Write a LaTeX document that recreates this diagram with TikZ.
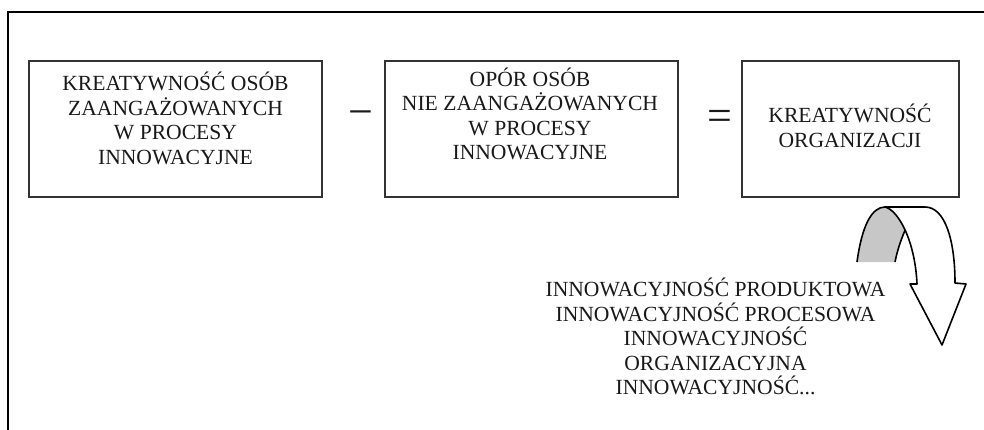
\documentclass[tikz,border=0pt]{standalone}
\usepackage{fontspec}
\setmainfont{Liberation Serif}
\begin{document}
\begin{tikzpicture}[x=1pt,y=-1pt,
  box/.style={draw=black!80, line width=1.3pt, minimum width=#1, minimum height=136pt, inner sep=0pt},
  lbl/.style={font=\fontsize{21.6}{24.5}\selectfont, align=center, inner sep=0pt, text=black!90, anchor=north},
  sign/.style={font=\fontsize{44}{44}\selectfont, inner sep=0pt, text=black!90},
  arr/.style={draw=black, line width=1.6pt, line join=round}]
\useasboundingbox (0,0) rectangle (984,430);
% frame
\draw[line width=2pt] (8,430) -- (8,12) -- (984,12);
% boxes
\node[box=293pt] (b1) at (175.5,129) {};
\node[box=293pt] (b2) at (531.5,129) {};
\node[box=217pt] (b3) at (850.5,129) {};
% texts
\node[lbl] (t1) at (175.5,70.5) {\rule{0pt}{20pt}KREATYWNOŚĆ OSÓB\\ZAANGAŻOWANYCH\\W PROCESY\\INNOWACYJNE};
\node[lbl] (t2) at (530,66) {\rule{0pt}{20pt}OPÓR OSÓB\\NIE ZAANGAŻOWANYCH\\W PROCESY\\INNOWACYJNE};
\node[lbl] (t3) at (850,102.5) {\rule{0pt}{20pt}KREATYWNOŚĆ\\ORGANIZACJI};
\node[lbl] (t4) at (715.5,276.5) {\rule{0pt}{20pt}INNOWACYJNOŚĆ PRODUKTOWA\\INNOWACYJNOŚĆ PROCESOWA\\INNOWACYJNOŚĆ\\ORGANIZACYJNA\\INNOWACYJNOŚĆ...};
% signs
\node[sign] (minus) at (360.5,118.5) {−};
\node[sign] (eq) at (719.5,120.5) {=};
% curved arrow
\fill[black!22] (857,262) .. controls (862,225) and (872,207) .. (885,207)
  .. controls (891.5,208.5) and (899,216.75) .. (905.1,230.1)
  .. controls (900,242) and (897,252) .. (895,262) -- cycle;
\draw[arr] (857,262) .. controls (862,225) and (872,207) .. (885,207);
\draw[arr] (905.1,230.1) .. controls (900,242) and (897,252) .. (895,262);
\draw[arr, fill=white] (885,207) -- (925,207)
  .. controls (945,207) and (955,240) .. (955,283)
  -- (966,284) -- (942,345) -- (910,284) -- (917,284)
  .. controls (915,240) and (898,210) .. (885,207) -- cycle;
\end{tikzpicture}
\end{document}
